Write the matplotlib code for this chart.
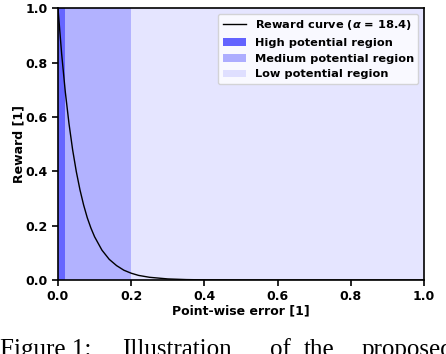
import matplotlib
matplotlib.use("Agg")
import matplotlib.pyplot as plt

# Reward curve sampled off the figure (alpha = 18.4)
error = [0.00, 0.01, 0.02, 0.03, 0.04, 0.05, 0.06, 0.07, 0.08, 0.09, 0.10,
         0.12, 0.14, 0.16, 0.18, 0.20, 0.22, 0.25, 0.30, 0.35, 0.40, 0.50,
         0.60, 0.80, 1.00]
reward = [1.000, 0.832, 0.692, 0.576, 0.479, 0.399, 0.332, 0.276, 0.229, 0.191, 0.159,
          0.110, 0.076, 0.053, 0.036, 0.025, 0.017, 0.010, 0.004, 0.0016, 0.0006, 0.0001,
          0.0, 0.0, 0.0]

# Region boundaries on the error axis
region_names = ["High potential region", "Medium potential region", "Low potential region"]
region_bounds = [0.0, 0.02, 0.2, 1.0]
region_alpha = [0.6, 0.3, 0.1]

# caption words (justified line, partly cut at the bottom)
caption_words = ["Figure 1:", "Illustration", "of", "the", "proposed"]
caption_x = [0, 122, 270, 304, 362]

plt.rcParams['font.family'] = 'DejaVu Sans'
plt.rcParams['font.weight'] = 'bold'
plt.rcParams['font.size'] = 9

fig = plt.figure(figsize=(4.46, 3.54), dpi=100)
ax = fig.add_axes([0.130, 0.209, 0.821, 0.768])

for i, name in enumerate(region_names):
    ax.axvspan(region_bounds[i], region_bounds[i + 1], color='blue',
               alpha=region_alpha[i], lw=0, label=name)

ax.plot(error, reward, color='black', lw=1.0,
        label=r'Reward curve ($\mathbfit{\alpha}$ = 18.4)')

ax.set_xlim(0, 1)
ax.set_ylim(0, 1)
ax.set_xlabel('Point-wise error [1]', fontweight='bold', fontsize=9, labelpad=1)
ax.set_ylabel('Reward [1]', fontweight='bold', fontsize=9, labelpad=0)
ax.tick_params(width=1.2, length=4, labelsize=9)
for s in ax.spines.values():
    s.set_linewidth(1.2)

handles, labels = ax.get_legend_handles_labels()
order = [3, 0, 1, 2]
leg = ax.legend([handles[i] for i in order], [labels[i] for i in order],
                loc='upper right', fontsize=8.2, framealpha=0.8)
for t in leg.get_texts():
    t.set_fontweight('bold')

for word, x in zip(caption_words, caption_x):
    fig.text(x / 446, 0.042, word, family='Liberation Serif', fontsize=18,
             va='top', ha='left', fontweight='normal')

fig.savefig('out.png', dpi=100)
